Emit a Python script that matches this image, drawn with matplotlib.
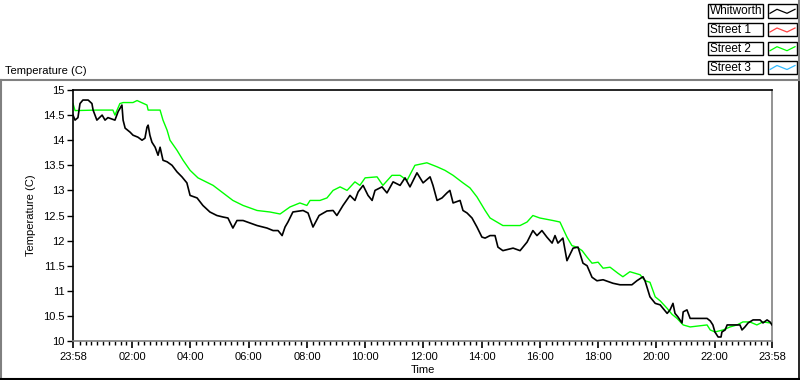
import matplotlib
matplotlib.use('Agg')
import matplotlib.pyplot as plt
from matplotlib.lines import Line2D
from matplotlib.patches import Rectangle
import numpy as np

plt.rcParams['font.family'] = ['Liberation Sans', 'DejaVu Sans']

# -------------------------
# DATA (hours since 23:58, temperature in C)
# -------------------------
whit_h = [0.00, 0.07, 0.17, 0.24, 0.34, 0.52, 0.65, 0.69, 0.82, 1.00, 1.10, 1.20, 1.44, 1.55,
          1.68, 1.72, 1.79, 1.96, 2.06, 2.23, 2.37, 2.47, 2.54, 2.58, 2.64, 2.71, 2.82, 2.92,
          2.99, 3.09, 3.23, 3.40, 3.57, 3.74, 3.91, 4.02, 4.26, 4.46, 4.70, 4.94, 5.15, 5.32,
          5.49, 5.63, 5.84, 6.08, 6.32, 6.66, 6.87, 7.04, 7.18, 7.28, 7.38, 7.55, 7.90, 8.07,
          8.24, 8.45, 8.72, 8.93, 9.06, 9.27, 9.51, 9.68, 9.79, 9.96, 10.13, 10.27, 10.37,
          10.61, 10.78, 10.99, 11.23, 11.40, 11.57, 11.81, 12.02, 12.26, 12.36, 12.50, 12.67,
          12.84, 12.94, 13.05, 13.29, 13.39, 13.53, 13.70, 13.87, 14.04, 14.15, 14.32, 14.49,
          14.59, 14.76, 15.11, 15.35, 15.59, 15.79, 15.93, 16.10, 16.27, 16.45, 16.55, 16.65,
          16.82, 16.96, 17.17, 17.34, 17.51, 17.65, 17.82, 17.99, 18.20, 18.54, 18.78, 19.19,
          19.36, 19.57, 19.64, 19.81, 19.99, 20.16, 20.40, 20.50, 20.60, 20.67, 20.77, 20.91,
          20.95, 21.08, 21.19, 21.77, 21.88, 21.97, 22.04, 22.15, 22.25, 22.28, 22.39, 22.46,
          22.90, 22.97, 23.07, 23.18, 23.35, 23.59, 23.69, 23.83, 23.93, 24.00]
whit_t = [14.50, 14.40, 14.45, 14.73, 14.80, 14.80, 14.73, 14.60, 14.40, 14.50, 14.40, 14.45, 14.40, 14.57,
          14.70, 14.40, 14.24, 14.16, 14.10, 14.06, 14.00, 14.04, 14.26, 14.30, 14.10, 13.96, 13.86, 13.70,
          13.86, 13.60, 13.57, 13.50, 13.37, 13.27, 13.15, 12.90, 12.85, 12.70, 12.57, 12.50, 12.47, 12.45,
          12.25, 12.40, 12.40, 12.35, 12.30, 12.25, 12.20, 12.20, 12.10, 12.27, 12.37, 12.57, 12.60, 12.55,
          12.27, 12.50, 12.59, 12.60, 12.50, 12.70, 12.90, 12.80, 12.97, 13.10, 12.90, 12.80, 13.00,
          13.07, 12.95, 13.17, 13.10, 13.25, 13.07, 13.35, 13.15, 13.27, 13.10, 12.80, 12.85,
          12.95, 13.00, 12.75, 12.80, 12.60, 12.55, 12.45, 12.27, 12.07, 12.05, 12.10, 12.10,
          11.87, 11.80, 11.85, 11.80, 11.97, 12.20, 12.10, 12.20, 12.07, 11.95, 12.10, 11.95,
          12.05, 11.60, 11.85, 11.87, 11.55, 11.50, 11.27, 11.20, 11.22, 11.15, 11.12, 11.12,
          11.20, 11.28, 11.20, 10.88, 10.75, 10.72, 10.55, 10.62, 10.75, 10.55, 10.48, 10.36,
          10.58, 10.62, 10.45, 10.45, 10.40, 10.32, 10.18, 10.08, 10.08, 10.18, 10.22, 10.32,
          10.32, 10.22, 10.28, 10.36, 10.42, 10.42, 10.36, 10.42, 10.38, 10.32]

st2_h = [0.00, 0.07, 0.80, 1.37, 1.44, 1.61, 1.72, 2.06, 2.20, 2.54, 2.58, 2.99, 3.09, 3.23, 3.33,
         3.57, 3.78, 4.02, 4.29, 4.81, 5.15, 5.49, 5.84, 6.32, 6.76, 7.11, 7.45, 7.79, 8.03,
         8.14, 8.48, 8.72, 8.93, 9.17, 9.41, 9.68, 9.85, 10.03, 10.44, 10.64, 10.95, 11.23,
         11.47, 11.74, 12.15, 12.50, 12.77, 13.05, 13.39, 13.63, 13.87, 14.15, 14.32, 14.76,
         15.35, 15.59, 15.79, 16.03, 16.48, 16.72, 16.96, 17.13, 17.30, 17.48, 17.65, 17.82,
         18.03, 18.20, 18.44, 18.71, 18.88, 19.12, 19.47, 19.64, 19.81, 19.99, 20.16, 20.40,
         20.57, 20.74, 20.95, 21.19, 21.77, 21.88, 22.04, 22.32, 22.56, 22.80, 23.00, 23.24,
         23.48, 23.69, 23.93, 24.00]
st2_t = [14.73, 14.59, 14.60, 14.60, 14.50, 14.73, 14.75, 14.75, 14.79, 14.70, 14.60, 14.60, 14.40, 14.20, 14.00,
         13.80, 13.60, 13.40, 13.25, 13.10, 12.95, 12.80, 12.70, 12.60, 12.57, 12.53, 12.67, 12.75, 12.70,
         12.80, 12.80, 12.85, 13.00, 13.07, 13.00, 13.17, 13.10, 13.25, 13.27, 13.10, 13.30, 13.30,
         13.20, 13.50, 13.55, 13.47, 13.40, 13.30, 13.15, 13.05, 12.87, 12.60, 12.45, 12.30,
         12.30, 12.37, 12.50, 12.45, 12.40, 12.37, 12.07, 11.90, 11.87, 11.80, 11.67, 11.55,
         11.57, 11.45, 11.47, 11.35, 11.28, 11.38, 11.32, 11.20, 11.17, 10.88, 10.80, 10.65,
         10.53, 10.45, 10.32, 10.28, 10.32, 10.22, 10.18, 10.22, 10.28, 10.32, 10.38, 10.38,
         10.32, 10.38, 10.36, 10.36]

series_names = ['Whitworth', 'Street 1', 'Street 2', 'Street 3']
series_colors = ['#000000', '#ff4040', '#00ff00', '#33bbff']

time_labels = ['23:58', '02:00', '04:00', '06:00', '08:00', '10:00', '12:00',
               '14:00', '16:00', '18:00', '20:00', '22:00', '23:58']

# -------------------------
# FIGURE
# -------------------------
W, H = 800, 380
fig = plt.figure(figsize=(W / 100, H / 100), dpi=100)


def fx(px):
    return px / W


def fy(py):
    return 1 - py / H


ax = fig.add_axes([fx(73), fy(341), fx(772) - fx(73), fy(90) - fy(341)])

ax.plot(st2_h, st2_t, color=series_colors[2], lw=1.0, zorder=2)
ax.plot(whit_h, whit_t, color=series_colors[0], lw=1.2, zorder=3)

ax.set_xlim(0, 24)
ax.set_ylim(10, 15)

# tick positions from the labels
start_min = 23 * 60 + 58
tick_pos = []
for i, lab in enumerate(time_labels):
    hh, mm = lab.split(':')
    m = (int(hh) * 60 + int(mm) - start_min) % 1440
    if i == len(time_labels) - 1:
        m = 1440
    tick_pos.append(m / 60)
ax.set_xticks(tick_pos)
ax.set_xticklabels(time_labels)
minor = [p for p in np.arange(tick_pos[1] - 2, 24, 0.2) if 0.05 < p < 23.95]
ax.set_xticks(minor, minor=True)

ax.set_yticks(np.arange(10, 15.01, 0.5))
ax.set_yticklabels(['10', '10.5', '11', '11.5', '12', '12.5', '13', '13.5', '14', '14.5', '15'])

ax.tick_params(axis='both', which='major', labelsize=8, color='black', length=4, width=1, pad=2)
ax.tick_params(axis='x', which='major', length=5, width=1.2, pad=3)
ax.tick_params(axis='x', which='minor', length=3, width=1, color='black')

ax.spines['left'].set_color('black')
ax.spines['top'].set_color('black')
ax.spines['right'].set_color('#808080')
ax.spines['bottom'].set_color('#808080')
for s in ax.spines.values():
    s.set_linewidth(1.2)

ax.set_xlabel('Time', fontsize=8, labelpad=2)
ax.set_ylabel('Temperature (C)', fontsize=8, labelpad=5)

fig.text(fx(5), fy(71), 'Temperature (C)', fontsize=8, va='center', ha='left')

# outer frame
fig.add_artist(Line2D([fx(0), fx(798)], [fy(80), fy(80)], color='#808080', lw=1.5))
fig.add_artist(Line2D([fx(0.8), fx(0.8)], [fy(80), fy(379)], color='#808080', lw=1.5))
fig.add_artist(Line2D([fx(0), fx(799)], [fy(378.8), fy(378.8)], color='black', lw=1.5))
fig.add_artist(Line2D([fx(798.6), fx(798.6)], [fy(80), fy(379)], color='black', lw=1.2))
fig.add_artist(Line2D([fx(798.6), fx(798.6)], [fy(0), fy(80)], color='#808080', lw=1.5))

# legend
row_top = [4.3, 23.0, 41.7, 60.5]
for name, col, top in zip(series_names, series_colors, row_top):
    bot = top + 13.3
    fig.add_artist(Rectangle((fx(708), fy(bot)), fx(763) - fx(708), fy(top) - fy(bot),
                             fill=True, facecolor='white', edgecolor='black', lw=1.0))
    fig.add_artist(Rectangle((fx(768), fy(bot)), fx(797) - fx(768), fy(top) - fy(bot),
                             fill=True, facecolor='white', edgecolor='black', lw=1.0))
    fig.text(fx(709.5), fy((top + bot) / 2 + 0.5), name, fontsize=8.5, va='center', ha='left')
    zx = [770, 777, 787, 795]
    zy = [top + 9, top + 5, top + 9, top + 5]
    fig.add_artist(Line2D([fx(v) for v in zx], [fy(v) for v in zy], color=col, lw=0.9))

fig.savefig('out.png', dpi=100)
